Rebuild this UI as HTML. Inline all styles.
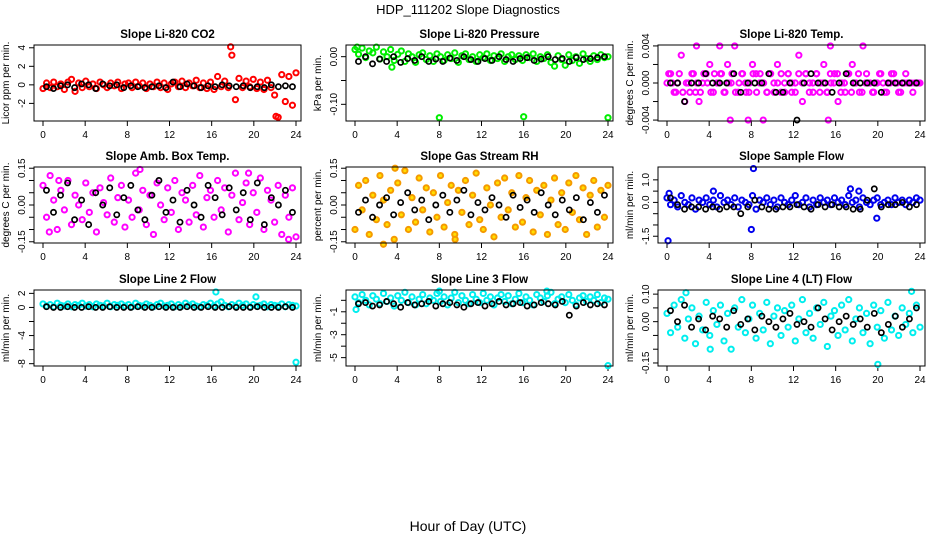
<!DOCTYPE html>
<html><head><meta charset="utf-8"><style>
html,body{margin:0;padding:0;background:#fff;}
svg{display:block;font-family:"Liberation Sans",Arial,sans-serif;}
</style></head><body>
<svg id="chart" width="936" height="540" viewBox="0 0 936 540" xmlns="http://www.w3.org/2000/svg">
<rect width="936" height="540" fill="#fff"/>
<text x="468" y="14" text-anchor="middle" font-size="13">HDP_111202  Slope Diagnostics</text>
<text x="468" y="531" text-anchor="middle" font-size="14">Hour of Day (UTC)</text>
</svg>
<script>
const xTicks=[0,4,8,12,16,20,24];
// Panel 1 CO2
const co2Color=[-0.4,0.2,-0.3,0.3,-0.2,0.1,-0.5,0.3,0.6,-0.7,0.2,-0.3,0.4,-0.2,0.1,-0.4,0.3,0.0,-0.3,0.2,-0.1,0.3,-0.4,0.1,0.2,-0.3,0.3,-0.1,0.2,-0.4,0.1,-0.2,0.3,-0.3,0.2,-0.5,0.1,0.3,-0.2,0.4,-0.3,0.2,-0.1,0.5,-0.3,0.2,-0.4,0.3,-0.5,0.9,-0.2,0.4,-0.3,3.2,-1.6,0.7,-0.3,0.4,-0.2,0.6,-0.4,0.3,-0.5,0.5,-0.3,-1.1,-3.5,1.1,-1.8,0.9,-2.2,1.3];
const co2Black=[-0.2,-0.4,-0.1,0.0,-0.3,0.1,0.0,-0.4,0.1,-0.1,0.0,-0.3,-0.1,-0.2,-0.3,-0.2,-0.1,-0.3,0.3,-0.2,0.1,-0.1,-0.3,-0.1,-0.2,0.0,-0.1,-0.2,-0.1,-0.3,-0.2,-0.3,0.0,-0.2,-0.1,-0.2];
const co2ExtraX=[17.8,22.1];
const co2ExtraY=[4.1,-3.4];
// Panel 2 Pressure
const presColor=[0.015,0.005,0.018,-0.002,0.012,0.008,0.02,-0.005,0.01,0.0,0.015,-0.008,0.005,0.012,-0.01,0.006,0.0,-0.012,0.004,0.008,-0.006,0.002,-0.01,0.006,0.0,-0.008,0.004,-0.004,0.008,-0.012,0.002,0.006,-0.006,0.0,-0.01,0.004,-0.002,0.006,-0.008,0.002,-0.004,0.006,-0.01,0.0,0.004,-0.006,0.002,-0.008,0.004,-0.002,0.006,-0.01,0.0,-0.004,0.004,-0.012,-0.02,0.002,-0.006,-0.018,0.004,-0.008,0.0,-0.014,0.006,-0.004,-0.01,0.002,-0.006,0.004,-0.002,0.0];
const presBlack=[-0.01,0.0,-0.015,-0.005,-0.01,0.0,-0.012,-0.004,-0.008,0.0,-0.01,-0.005,-0.01,-0.003,-0.008,0.0,-0.006,-0.01,-0.004,-0.008,0.0,-0.006,-0.01,-0.004,-0.002,-0.008,-0.005,0.0,-0.006,-0.004,-0.01,-0.002,-0.006,-0.004,-0.002,0.0];
const presExtraX=[8,16,24,0.2,3.5];
const presExtraY=[-0.128,-0.126,-0.128,0.02,-0.022];
// Panel 3 Temp (units of 0.001 degC)
const tempColor=[0,1,-1,0,3,-2,0,1,-1,-2,0,1,2,-1,0,1,-1,2,0,4,-1,1,0,-1,2,1,0,-4,-1,1,0,2,-1,0,1,-1,0,3,-2,1,0,-1,1,0,2,-1,0,1,-2,0,-1,1,2,0,-1,4,1,0,-1,0,1,-1,0,1,0,-1,0,1,0,-1,0,0];
const tempColor2=[1,0,-1,1,-1,0,-1,1,0,-1,1,0,-1,1,0,1,-1,0,1,-1,0,1,-1,0,1,-1,1,0,-1,1,-1,0,1,-1,1,0,-1,1,0,1,-1,0,1,-1,0,-1,1,0,1,-1,0,1,-1,0,1,-1,0,0,-1,0,1,0,-1,0,1,0,-1,0,0,0,0,0];
const tempBlack=[0,0,-2,0,0,1,0,0,0,1,-1,0,0,0,1,-1,-1,0,-4,0,1,0,0,-1,0,1,0,0,0,0,-1,0,0,0,0,0];
const tempExtraX=[2.8,5,6,7.7,15.3,15.5];
const tempExtraY=[4,4,-4,-4,-4,4];
// Panel 4 Amb box
const ambColor=[0.08,-0.05,0.12,0.02,-0.1,0.06,-0.02,0.1,-0.08,0.04,0.0,-0.06,0.09,-0.03,0.05,-0.11,0.07,0.01,-0.04,0.11,-0.07,0.03,0.08,-0.09,0.02,-0.05,0.13,-0.02,0.06,-0.08,0.04,-0.12,0.09,0.0,-0.06,0.07,-0.03,0.1,-0.1,0.05,0.02,-0.07,0.08,-0.04,0.12,-0.09,0.03,0.06,-0.05,0.1,-0.02,0.07,-0.11,0.04,0.13,-0.06,0.01,0.09,-0.08,0.05,-0.03,0.11,-0.1,0.06,0.02,-0.07,0.08,-0.12,0.04,-0.05,0.07,-0.13];
const ambBlack=[0.06,-0.03,0.04,0.09,-0.06,0.02,-0.08,0.05,0.0,0.07,-0.04,0.03,0.08,-0.02,-0.06,0.04,0.1,-0.03,0.02,-0.07,0.06,0.0,-0.05,0.08,0.03,-0.04,0.07,-0.02,0.05,-0.06,0.09,-0.08,0.03,0.0,0.06,-0.03];
const ambExtraX=[9.2,19.5,23.3,0.6,1.5];
const ambExtraY=[0.145,0.13,-0.14,-0.11,0.1];
// Panel 5 RH
const rhColor=[-0.1,0.08,-0.02,0.1,-0.12,0.04,-0.06,0.12,0.02,-0.08,0.06,-0.14,0.09,-0.04,0.14,-0.1,0.03,-0.07,0.11,-0.02,0.07,-0.11,0.05,-0.05,0.12,-0.09,0.01,0.08,-0.12,0.06,-0.03,0.1,-0.08,0.04,0.13,-0.06,-0.1,0.07,0.0,-0.13,0.09,-0.05,0.11,-0.02,0.05,-0.09,0.12,-0.07,0.03,0.1,-0.11,0.06,-0.04,0.08,-0.12,0.02,0.11,-0.08,0.05,-0.1,0.09,-0.03,0.12,-0.06,0.07,-0.12,0.04,0.1,-0.09,0.06,-0.05,0.08];
const rhBlack=[-0.03,0.02,-0.05,0.0,0.03,-0.04,0.01,0.05,-0.02,0.02,-0.06,0.0,0.04,-0.03,0.02,0.06,-0.04,0.01,-0.02,0.03,0.0,-0.05,0.04,-0.01,0.02,-0.03,0.05,0.0,-0.04,0.02,-0.02,0.03,-0.06,0.01,-0.03,0.04];
const rhExtraX=[2.7,3.8,9.5];
const rhExtraY=[-0.16,0.15,-0.14];
// Panel 6 Sample flow
const sfColor=[0.2,-0.1,0.1,-0.2,0.3,0.0,-0.1,0.2,-0.3,0.1,0.0,0.2,-0.1,0.1,-0.2,0.3,0.0,0.1,-0.1,0.2,-0.2,0.1,0.0,-0.1,0.3,-0.3,0.1,0.0,0.2,-0.1,0.1,-0.2,0.2,0.0,-0.1,0.1,0.3,-0.1,0.0,0.2,-0.2,0.1,-0.1,0.2,0.0,0.1,-0.1,0.2,0.0,0.1,-0.1,0.3,0.0,0.1,-0.2,0.2,0.0,-0.1,0.1,0.2,-0.1,0.0,0.1,-0.1,0.2,0.0,0.1,-0.1,0.1,0.0,0.2,0.1];
const sfBlack=[0.2,-0.1,-0.3,-0.2,-0.2,-0.3,-0.2,-0.3,-0.2,-0.2,-0.5,-0.2,0.1,-0.2,-0.3,-0.3,-0.2,-0.2,-0.1,-0.2,-0.3,-0.1,-0.2,-0.1,-0.2,-0.2,-0.3,-0.3,0.1,0.6,-0.2,-0.1,-0.1,0.0,-0.2,-0.1];
const sfExtraX=[0.1,8.2,8.0,19.9,0.2,4.4,17.4,18.2];
const sfExtraY=[-1.7,1.5,-1.2,-0.7,0.4,0.5,0.6,0.5];
// Panel 7 Line 2 flow
const l2Color=[0.5,0.2,0.4,0.1,0.6,0.3,0.2,0.5,0.1,0.4,0.3,0.6,0.2,0.4,0.1,0.5,0.3,0.2,0.6,0.1,0.4,0.3,0.5,0.2,0.4,0.1,0.6,0.3,0.2,0.5,0.3,0.1,0.4,0.6,0.2,0.3,0.5,0.1,0.4,0.2,0.6,0.3,0.5,0.2,0.1,0.4,0.3,0.6,0.2,0.5,0.8,0.3,0.1,0.4,0.2,0.6,0.3,0.5,0.1,0.4,0.2,0.3,0.5,0.1,0.4,0.3,0.2,0.5,0.1,0.4,0.3,0.2];
const l2Black=[0.1,0,0,0.1,0,0,0.1,0,0,0.1,0,0,0,0.1,0,0,0.1,0,0,0,0.1,0,0,0.1,0,0,0.1,0,0,0,0.1,0,0,0,0.1,0];
const l2ExtraX=[24,16.4,20.2];
const l2ExtraY=[-7.8,2.2,1.5];
// Panel 8 Line 3 flow
const l3Color=[0.3,-0.2,0.5,0.0,-0.4,0.4,0.1,-0.3,0.6,-0.1,0.2,-0.5,0.4,0.0,0.7,-0.2,0.3,-0.4,0.1,0.5,-0.3,0.2,0.0,0.6,-0.1,0.3,-0.4,0.2,0.7,-0.2,0.4,0.0,-0.3,0.5,0.1,-0.2,0.6,0.0,0.3,-0.4,0.2,0.5,-0.1,0.4,-0.3,0.1,0.6,-0.2,0.3,0.0,-0.4,0.5,0.2,-0.1,0.4,0.7,-0.3,0.1,0.3,-0.2,0.5,0.0,-0.4,0.2,0.4,-0.1,0.3,0.0,0.5,-0.2,0.2,0.1];
const l3Black=[-0.3,-0.2,-0.5,-0.4,-0.1,-0.3,-0.6,-0.2,-0.4,-0.3,-0.1,-0.5,-0.3,-0.2,-0.4,-0.6,-0.3,-0.2,-0.5,-0.3,-0.1,-0.4,-0.3,-0.2,-0.5,-0.4,-0.2,-0.3,-0.4,-0.1,-1.3,-0.5,-0.2,-0.4,-0.3,-0.4];
const l3ExtraX=[24,0.1,8,18.2];
const l3ExtraY=[-5.7,-0.8,0.8,0.8];
// Panel 9 Line 4 flow
const l4Color=[0.03,-0.04,0.06,-0.02,0.08,-0.06,0.01,0.05,-0.08,0.02,-0.03,0.07,-0.05,0.04,-0.01,0.06,-0.07,0.03,-0.1,0.05,-0.02,0.08,-0.04,0.01,0.06,-0.06,0.03,-0.03,0.07,-0.08,0.02,0.05,-0.05,0.04,-0.02,0.06,-0.07,0.01,0.08,-0.04,0.03,-0.06,0.05,-0.01,0.07,-0.09,0.02,0.04,-0.05,0.06,-0.03,0.08,-0.07,0.01,0.05,-0.04,0.03,-0.08,0.06,-0.02,0.04,-0.06,0.07,-0.03,0.02,-0.05,0.05,-0.01,0.03,-0.04,0.06,-0.02];
const l4Black=[0.04,0.0,0.06,-0.02,0.01,-0.03,0.02,0.01,-0.02,0.04,-0.01,0.01,-0.03,0.02,0.0,-0.02,0.01,0.03,-0.01,0.0,-0.02,0.05,0.01,-0.03,0.0,0.02,-0.01,0.01,-0.02,0.03,-0.04,-0.01,0.02,-0.02,0.01,0.05];
const l4ExtraX=[1.8,20,23.2,4.1];
const l4ExtraY=[0.105,-0.155,0.11,-0.1];

const svg=document.getElementById('chart');
const NS='http://www.w3.org/2000/svg';
function mk(tag,attrs){const e=document.createElementNS(NS,tag);for(const k in attrs)e.setAttribute(k,attrs[k]);svg.appendChild(e);return e;}

const colLeft=[34,346,658], rowTop=[45,167,290], boxW=267, boxH=76;
const panels=[
 {key:'co2',title:'Slope Li-820 CO2',ylab:'Licor ppm per min.',col:0,row:0,top:4.3,bot:-3.9,ticks:[-2,0,2,4],labels:['-2','0','2','4'],color:co2Color,black:co2Black,ex:co2ExtraX,ey:co2ExtraY,stroke:'#ff0000',scale:1},
 {key:'pressure',title:'Slope Li-820 Pressure',ylab:'kPa per min.',col:1,row:0,top:0.0245,bot:-0.135,ticks:[0,-0.05,-0.1],labels:['0.00','','-0.10'],color:presColor,black:presBlack,ex:presExtraX,ey:presExtraY,stroke:'#00ee00',scale:1},
 {key:'temp',title:'Slope Li-820 Temp.',ylab:'degrees C per min.',col:2,row:0,top:0.0041,bot:-0.0041,ticks:[-0.004,-0.002,0,0.002,0.004],labels:['-0.004','','0.000','','0.004'],color:tempColor,color2:tempColor2,black:tempBlack,ex:tempExtraX,ey:tempExtraY,stroke:'#ff00ff',scale:0.001},
 {key:'ambbox',title:'Slope Amb. Box Temp.',ylab:'degrees C per min.',col:0,row:1,top:0.155,bot:-0.155,ticks:[-0.15,-0.1,-0.05,0,0.05,0.1,0.15],labels:['-0.15','','','0.00','','','0.15'],color:ambColor,black:ambBlack,ex:ambExtraX,ey:ambExtraY,stroke:'#ff00ff',scale:1},
 {key:'rh',title:'Slope Gas Stream RH',ylab:'percent per min.',col:1,row:1,top:0.155,bot:-0.155,ticks:[-0.15,-0.1,-0.05,0,0.05,0.1,0.15],labels:['-0.15','','','0.00','','','0.15'],color:rhColor,black:rhBlack,ex:rhExtraX,ey:rhExtraY,stroke:'#f59a00',fill:'#ffe000',scale:1},
 {key:'sampleflow',title:'Slope Sample Flow',ylab:'ml/min per min.',col:2,row:1,top:1.57,bot:-1.8,ticks:[-1.5,-1,-0.5,0,0.5,1],labels:['-1.5','','','0.0','','1.0'],color:sfColor,black:sfBlack,ex:sfExtraX,ey:sfExtraY,stroke:'#0000ee',scale:1},
 {key:'line2',title:'Slope Line 2 Flow',ylab:'ml/min per min.',col:0,row:2,top:2.48,bot:-8.33,ticks:[-8,-6,-4,-2,0,2],labels:['-8','','-4','','0','2'],color:l2Color,black:l2Black,ex:l2ExtraX,ey:l2ExtraY,stroke:'#00eeee',scale:1},
 {key:'line3',title:'Slope Line 3 Flow',ylab:'ml/min per min.',col:1,row:2,top:0.9,bot:-5.73,ticks:[-5,-4,-3,-2,-1,0],labels:['-5','','-3','','-1',''],color:l3Color,black:l3Black,ex:l3ExtraX,ey:l3ExtraY,stroke:'#00eeee',scale:1},
 {key:'line4',title:'Slope Line 4 (LT) Flow',ylab:'ml/min per min.',col:2,row:2,top:0.115,bot:-0.161,ticks:[-0.15,-0.1,-0.05,0,0.05,0.1],labels:['-0.15','','','0.00','','0.10'],color:l4Color,black:l4Black,ex:l4ExtraX,ey:l4ExtraY,stroke:'#00eeee',scale:1}
];

panels.forEach(p=>{
  const L=colLeft[p.col], T=rowTop[p.row];
  const xs=h=>L+9+h/24*253;
  const ys=v=>T+(p.top-v)/(p.top-p.bot)*boxH;
  const g=mk('g',{});
  
  
  const t=mk('text',{x:L+boxW/2,y:T-7,'text-anchor':'middle','font-size':11.5,'font-weight':'bold'});
  t.textContent=p.title;
  
  
  const yl=mk('text',{x:0,y:0,'text-anchor':'middle','font-size':10,transform:`translate(${L-25},${T+boxH/2}) rotate(-90)`});
  yl.textContent=p.ylab;
  
  
  xTicks.forEach(h=>{
    const tk=mk('line',{x1:xs(h),x2:xs(h),y1:T+boxH,y2:T+boxH+5,stroke:'#000'});
    
    
    const lb=mk('text',{x:xs(h),y:T+boxH+17,'text-anchor':'middle','font-size':10});
    lb.textContent=h;
    
    
  });
  const xa=mk('line',{x1:xs(0),x2:xs(24),y1:T+boxH,y2:T+boxH,stroke:'#000'});
  
  
  p.ticks.forEach((v,i)=>{
    const tk=mk('line',{x1:L-5,x2:L,y1:ys(v),y2:ys(v),stroke:'#000'});
    
    
    if(p.labels[i]){
      const lb=mk('text',{x:0,y:0,'text-anchor':'middle','font-size':10,transform:`translate(${L-9},${ys(v)}) rotate(-90)`});
      lb.textContent=p.labels[i];
      
      
    }
  });
  const dot=(h,v,stroke,fill,name,w)=>{
    const y=ys(v);
    if(y<T-3||y>T+boxH+3)return;
    const c=mk('circle',{cx:xs(h),cy:y,r:2.6,fill:fill||'none',stroke:stroke,'stroke-width':w});
    
    
  };
  const n=p.color.length;
  p.color.forEach((v,i)=>dot(i*24/(n-1),v*p.scale,p.stroke,p.fill,'point-'+p.key,2));
  if(p.color2){const n2=p.color2.length;p.color2.forEach((v,i)=>dot((i+0.5)*24/n2,v*p.scale,p.stroke,p.fill,'point-'+p.key,2));}
  p.ex.forEach((h,i)=>dot(h,p.ey[i]*p.scale,p.stroke,p.fill,'outlier-'+p.key,2));
  const nb=p.black.length;
  p.black.forEach((v,i)=>dot(i*24/nb+0.33,v*p.scale,'#000',null,'black-point-'+p.key,1.7));
  const box=mk('rect',{x:L,y:T,width:boxW,height:boxH,fill:'none',stroke:'#000'});
  
  
});
</script>
</body></html>
